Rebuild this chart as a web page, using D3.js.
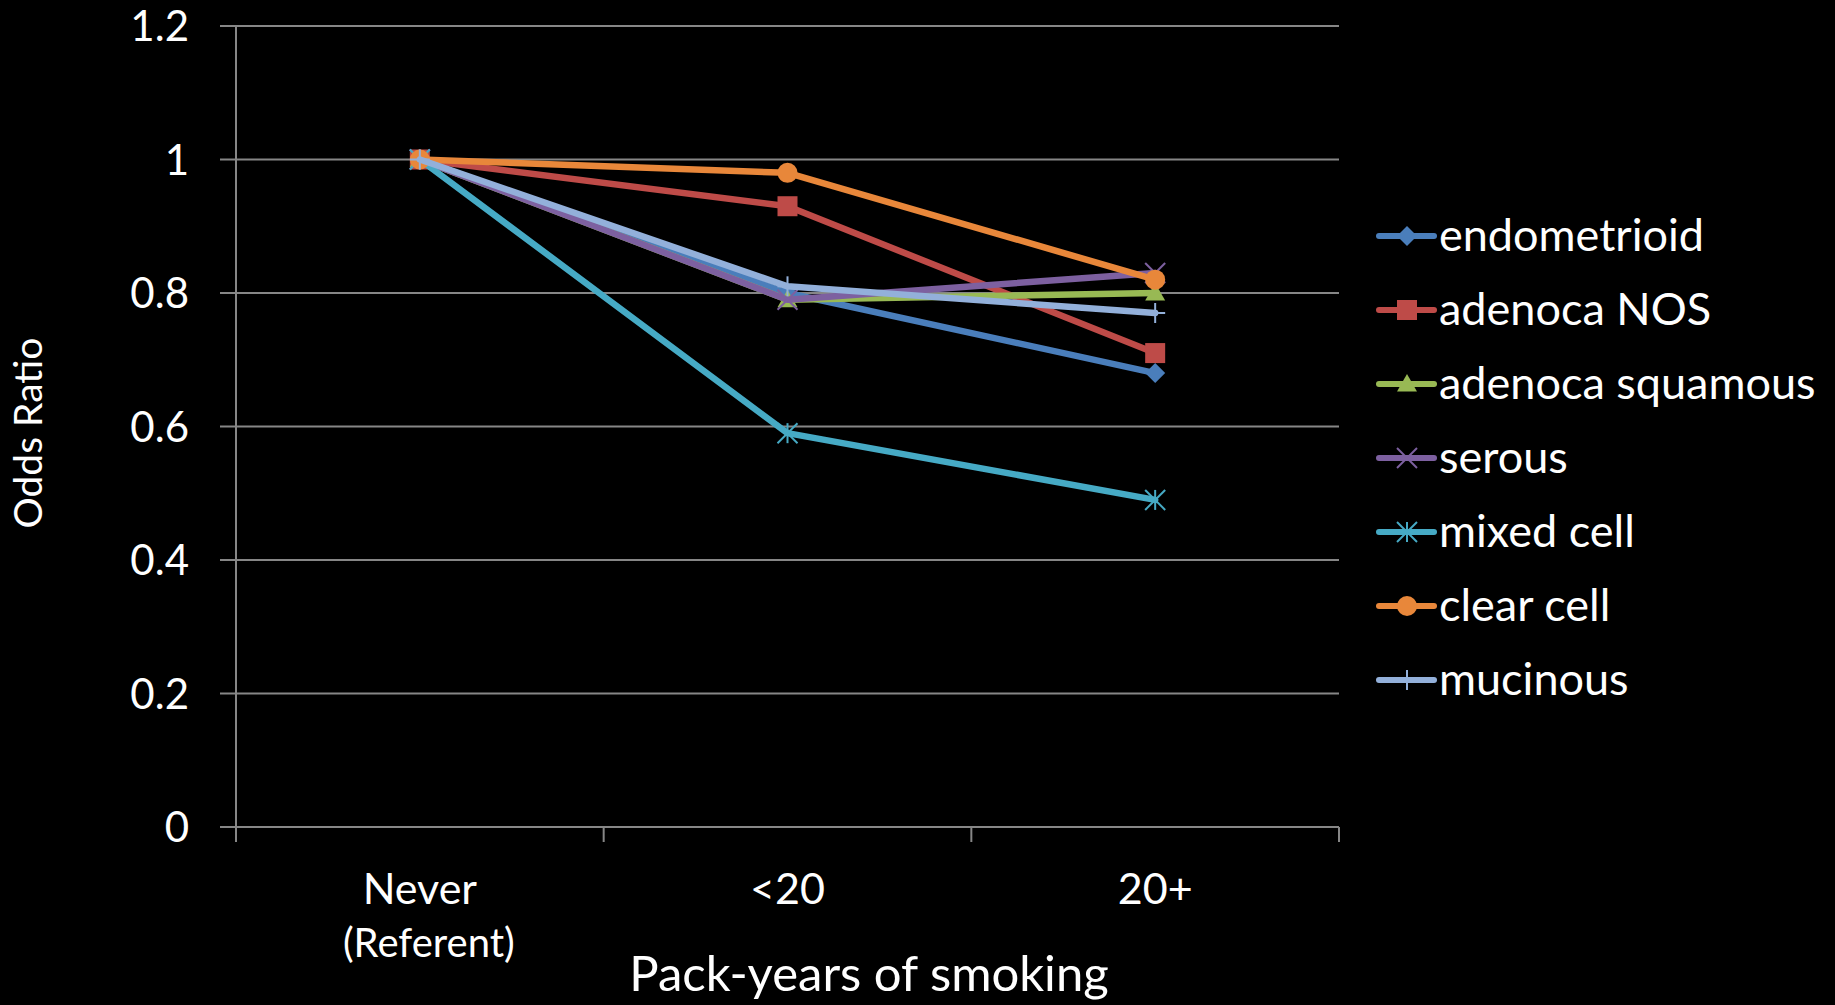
<!DOCTYPE html>
<html>
<head>
<meta charset="utf-8">
<script src="https://cdn.jsdelivr.net/npm/d3@7"></script>
<style>
  html, body { margin: 0; padding: 0; background: #000; }
  svg { display: block; }
  text { font-family: Lato, "Open Sans", sans-serif; fill: #fff; }
</style>
</head>
<body>
<svg id="chart" width="1835" height="1005"></svg>
<script>
// Pack-years categories and odds ratios per histologic subtype
const categories = ["Never", "<20", "20+"];
const categorySubLabels = ["(Referent)", "", ""];
const seriesNames = ["endometrioid", "adenoca NOS", "adenoca squamous", "serous", "mixed cell", "clear cell", "mucinous"];
const endometrioid = [1.00, 0.80, 0.68];
const adenocaNOS = [1.00, 0.93, 0.71];
const adenocaSquamous = [1.00, 0.79, 0.80];
const serous = [1.00, 0.79, 0.83];
const mixedCell = [1.00, 0.59, 0.49];
const clearCell = [1.00, 0.98, 0.82];
const mucinous = [1.00, 0.81, 0.77];
const yTickValues = [0, 0.2, 0.4, 0.6, 0.8, 1.0, 1.2];
const yTitle = "Odds Ratio";
const xTitle = "Pack-years of smoking";

const seriesValues = [endometrioid, adenocaNOS, adenocaSquamous, serous, mixedCell, clearCell, mucinous];
const seriesColors = ["#4A7EBB", "#BE4B48", "#98B954", "#7D60A0", "#46AAC5", "#E8873A", "#93B0DA"];
const seriesMarkers = ["diamond", "square", "triangle", "x", "star", "circle", "plus"];

const svg = d3.select("#chart");
const plotLeft = 236, plotRight = 1339, plotTop = 26, plotBottom = 827;

const x = d3.scaleBand().domain(categories).range([plotLeft, plotRight]).paddingInner(0).paddingOuter(0);
const y = d3.scaleLinear().domain([0, 1.2]).range([plotBottom, plotTop]);
const cx = d => x(d) + x.bandwidth() / 2;

const gridColor = "#868686";

// horizontal gridlines, extended left as tick marks
svg.append("g").selectAll("line").data(yTickValues).join("line")
  .attr("x1", plotLeft - 16).attr("x2", plotRight)
  .attr("y1", d => y(d)).attr("y2", d => y(d))
  .attr("stroke", gridColor).attr("stroke-width", 2);

// vertical axis line
svg.append("line").attr("x1", plotLeft).attr("x2", plotLeft).attr("y1", plotTop).attr("y2", plotBottom + 15)
  .attr("stroke", gridColor).attr("stroke-width", 2);

// category boundary ticks
const boundaries = categories.map(c => x(c)).concat([x(categories[categories.length - 1]) + x.bandwidth()]);
svg.append("g").selectAll("line").data(boundaries).join("line")
  .attr("x1", d => d).attr("x2", d => d).attr("y1", plotBottom).attr("y2", plotBottom + 15)
  .attr("stroke", gridColor).attr("stroke-width", 2);

// y tick labels
const fmt = d3.format("~g");
svg.append("g").selectAll("text").data(yTickValues).join("text")
  .attr("x", plotLeft - 47).attr("y", d => y(d)).attr("dy", "0.36em")
  .attr("text-anchor", "end").attr("font-size", 42)
  .text(d => fmt(d));

// x category labels
svg.append("g").selectAll("text").data(categories).join("text")
  .attr("x", d => cx(d)).attr("y", 904)
  .attr("text-anchor", "middle").attr("font-size", 43)
  .text(d => d);
svg.append("g").selectAll("text").data(categories.filter((c, i) => categorySubLabels[i])).join("text")
  .attr("x", d => cx(d) + 9).attr("y", 957)
  .attr("text-anchor", "middle").attr("font-size", 40)
  .text(d => categorySubLabels[categories.indexOf(d)]);

// axis titles
svg.append("text").attr("x", 869).attr("y", 991).attr("text-anchor", "middle")
  .attr("font-size", 49).text(xTitle);
svg.append("text").attr("transform", "translate(42,433) rotate(-90)")
  .attr("text-anchor", "middle").attr("font-size", 39).text(yTitle);

// marker drawing
function drawMarker(g, type, color, px, py) {
  const s = 10;
  if (type === "diamond") {
    g.append("path").attr("d", `M${px},${py - s}L${px + s},${py}L${px},${py + s}L${px - s},${py}Z`).attr("fill", color);
  } else if (type === "square") {
    g.append("rect").attr("x", px - s).attr("y", py - s).attr("width", 2 * s).attr("height", 2 * s).attr("fill", color);
  } else if (type === "triangle") {
    g.append("path").attr("d", `M${px},${py - s}L${px + s},${py + s * 0.75}L${px - s},${py + s * 0.75}Z`).attr("fill", color);
  } else if (type === "circle") {
    g.append("circle").attr("cx", px).attr("cy", py).attr("r", s).attr("fill", color);
  } else {
    const segs = [];
    if (type === "x" || type === "star") {
      segs.push([px - s, py - s, px + s, py + s], [px - s, py + s, px + s, py - s]);
    }
    if (type === "star") segs.push([px, py - s, px, py + s]);
    if (type === "plus") segs.push([px - s, py, px + s, py], [px, py - s, px, py + s]);
    segs.forEach(sg => g.append("line")
      .attr("x1", sg[0]).attr("y1", sg[1]).attr("x2", sg[2]).attr("y2", sg[3])
      .attr("stroke", color).attr("stroke-width", 2));
  }
}

// series lines and markers
const line = d3.line().x((d, i) => cx(categories[i])).y(d => y(d));
seriesValues.forEach((vals, k) => {
  const g = svg.append("g");
  g.append("path").attr("d", line(vals)).attr("fill", "none")
    .attr("stroke", seriesColors[k]).attr("stroke-width", 6.5)
    .attr("stroke-linejoin", "round").attr("stroke-linecap", "round");
  vals.forEach((v, i) => drawMarker(g, seriesMarkers[k], seriesColors[k], cx(categories[i]), y(v)));
});

// legend
const legendX = 1379, legendY0 = 236, legendStep = 74;
seriesNames.forEach((name, k) => {
  const g = svg.append("g");
  const ly = legendY0 + k * legendStep;
  g.append("line").attr("x1", legendX).attr("x2", legendX + 55).attr("y1", ly).attr("y2", ly)
    .attr("stroke", seriesColors[k]).attr("stroke-width", 6).attr("stroke-linecap", "round");
  drawMarker(g, seriesMarkers[k], seriesColors[k], legendX + 28, ly);
  g.append("text").attr("x", legendX + 60).attr("y", ly + 15).attr("font-size", 45).text(name);
});
</script>
</body>
</html>
